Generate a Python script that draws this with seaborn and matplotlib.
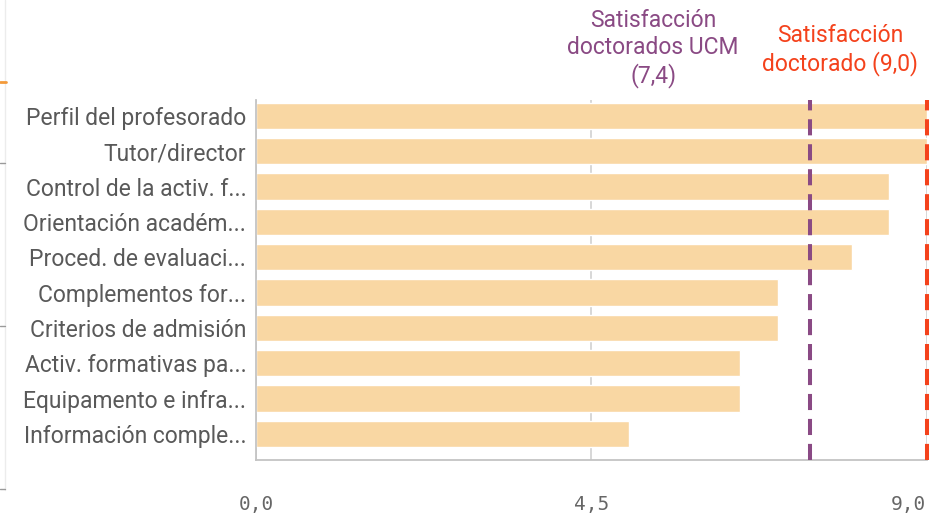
import matplotlib
matplotlib.use("Agg")
import matplotlib.pyplot as plt
import seaborn as sns
import pandas as pd
from matplotlib.lines import Line2D

# Datos (satisfacción media por aspecto)
aspectos = [
    "Perfil del profesorado",
    "Tutor/director",
    "Control de la activ. f...",
    "Orientación académ...",
    "Proced. de evaluaci...",
    "Complementos for...",
    "Criterios de admisión",
    "Activ. formativas pa...",
    "Equipamento e infra...",
    "Información comple...",
]
satisfaccion = [9.0, 9.0, 8.5, 8.5, 8.0, 7.0, 7.0, 6.5, 6.5, 5.0]
media_ucm = 7.44
media_doctorado = 9.0
ticks_x = [0, 4.5, 9]
ticks_x_txt = ["0,0", "4,5", "9,0"]

df = pd.DataFrame({"aspecto": aspectos, "nota": satisfaccion})

sns.set_theme(style="white")
plt.rcParams["font.family"] = ["Roboto", "DejaVu Sans"]

W, H = 946, 518
fig = plt.figure(figsize=(W / 100, H / 100), dpi=100)
ax = fig.add_axes([256 / W, 1 - 460 / H, (926.5 - 256) / W, 360 / H])

sns.barplot(data=df, x="nota", y="aspecto", orient="h", color="#f9d7a3",
            saturation=1, width=0.74, ax=ax, zorder=2)

ax.set_xlim(0, 9.0)
ax.set_ylim(9.74, -0.45)
ax.set_xticks(ticks_x)
ax.set_xticklabels(ticks_x_txt, family="DejaVu Sans Mono", fontsize=14, color="#666666")
ax.get_xticklabels()[-1].set_horizontalalignment("right")
ax.grid(axis="x", color="#d4d4d4", linewidth=1.3, zorder=0)
ax.set_axisbelow(True)
ax.tick_params(axis="x", length=22, width=1.3, color="#d4d4d4", pad=3)
ax.tick_params(axis="y", length=0, pad=7, labelsize=16.5, labelcolor="#595959")
ax.set_xlabel("")
ax.set_ylabel("")

for lado in ["top", "right"]:
    ax.spines[lado].set_visible(False)
for lado in ["left", "bottom"]:
    ax.spines[lado].set_color("#c4c4c4")
    ax.spines[lado].set_linewidth(1.3)

# Líneas de referencia
ax.axvline(media_ucm, color="#8a4a84", linewidth=2.9, dashes=(4, 2.2), zorder=3, clip_on=False)
ax.axvline(media_doctorado, color="#f4421c", linewidth=2.9, dashes=(4, 2.2), zorder=3, clip_on=False)

ax.text(5.33, 1.143, "Satisfacción\ndoctorados UCM\n(7,4)", ha="center", va="center",
        transform=ax.get_xaxis_transform(), fontsize=16.5, color="#8a4a84", linespacing=1.2)
ax.text(7.84, 1.14, "Satisfacción\ndoctorado (9,0)", ha="center", va="center",
        transform=ax.get_xaxis_transform(), fontsize=16.5, color="#f4421c", linespacing=1.2)

# bordes del panel de la izquierda
fig.add_artist(Line2D([5 / W, 5 / W], [1 - 490 / H, 1], transform=fig.transFigure, color="#ececec", lw=1))
fig.add_artist(Line2D([0, 6 / W], [1 - 82 / H] * 2, transform=fig.transFigure, color="#f39a3a", lw=2))
for yy in [163, 326, 489]:
    fig.add_artist(Line2D([0, 5 / W], [1 - yy / H] * 2, transform=fig.transFigure, color="#9a9a9a", lw=1))

fig.savefig("out.png", dpi=100)
